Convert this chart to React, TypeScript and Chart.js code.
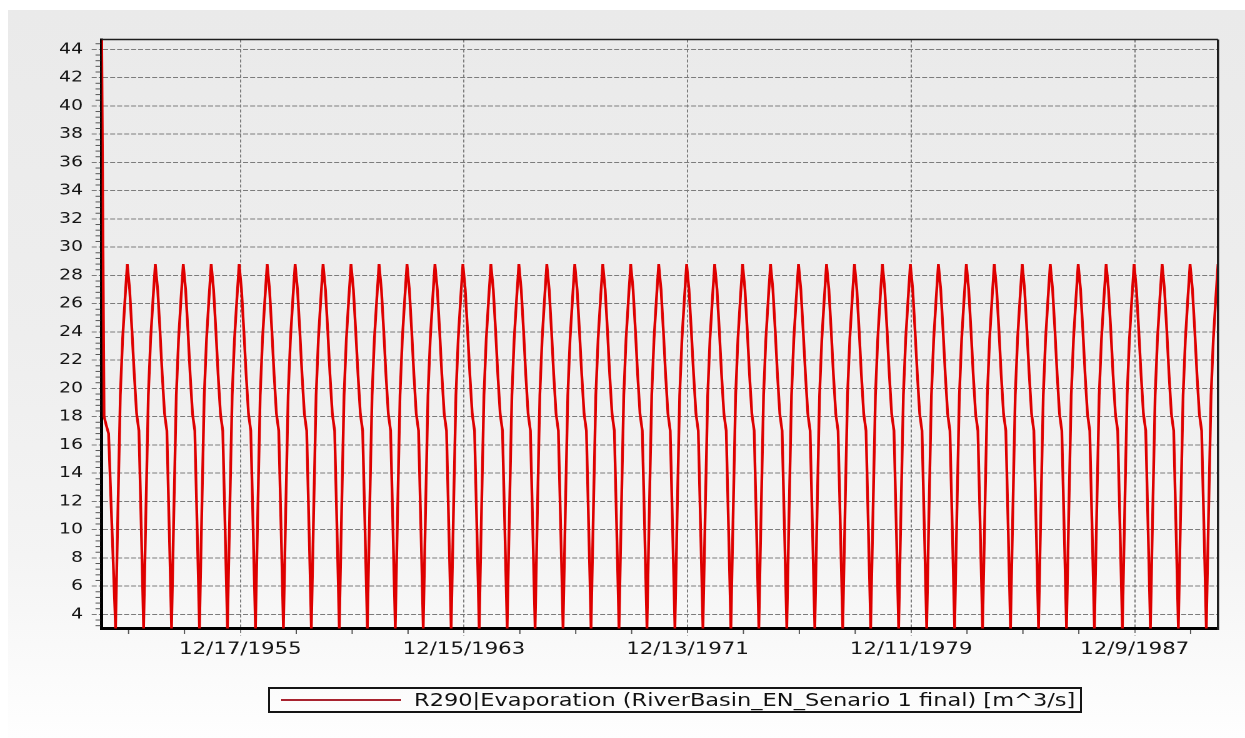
import React, { useEffect, useRef } from 'react';
import { Chart, registerables } from 'chart.js';

Chart.register(...registerables);

// ---------- data ----------
const years = [
  1951, 1952, 1953, 1954, 1955, 1956, 1957, 1958, 1959, 1960,
  1961, 1962, 1963, 1964, 1965, 1966, 1967, 1968, 1969, 1970,
  1971, 1972, 1973, 1974, 1975, 1976, 1977, 1978, 1979, 1980,
  1981, 1982, 1983, 1984, 1985, 1986, 1987, 1988, 1989, 1990,
];
const monthIndexes = [0, 1, 2, 3, 4, 5, 6, 7, 8, 9, 10, 11];
// monthly evaporation [m^3/s], Jan..Dec
const firstYearValues = [44.7, 18.0, 17.4, 16.8, 12.2, 7.6, 3.0, 11.5, 19.5, 23.5, 26.3, 28.8];
const typicalYearValues = [27.0, 24.0, 21.0, 18.2, 17.0, 10.0, 3.0, 11.5, 19.5, 23.5, 26.3, 28.8];
const yTickValues = [4, 6, 8, 10, 12, 14, 16, 18, 20, 22, 24, 26, 28, 30, 32, 34, 36, 38, 40, 42, 44];
const xTickLabels = ['12/17/1955', '12/15/1963', '12/13/1971', '12/11/1979', '12/9/1987'];
const seriesLabel = 'R290|Evaporation (RiverBasin_EN_Senario 1 final) [m^3/s]';
const Y_MIN = 3;
const Y_MAX = 44.7;

// ---------- layout ----------
const PAGE_W = 1245;
const PAGE_H = 738;
const STRETCH = 1.25; // reference is horizontally stretched
const LOGICAL_W = PAGE_W / STRETCH;
const AREA_LEFT = 101.7 / STRETCH;
const AREA_RIGHT = 1218 / STRETCH;
const AREA_TOP = 39.5;
const AREA_BOTTOM = 628.5;

const dayNumber = (y: number, m: number, d: number) => Date.UTC(y, m, d) / 86400000;
const parseLabel = (s: string) => {
  const [m, d, y] = s.split('/').map(Number);
  return dayNumber(y, m - 1, d);
};

const points: { x: number; y: number }[] = [];
years.forEach((yr, i) => {
  const vals = i === 0 ? firstYearValues : typicalYearValues;
  monthIndexes.forEach((m) => points.push({ x: dayNumber(yr, m, 1), y: vals[m] }));
});
const X_MIN = points[0].x;
const X_MAX = points[points.length - 1].x;
const majorDays = xTickLabels.map(parseLabel);
const labelByDay = new Map(majorDays.map((d, i) => [d, xTickLabels[i]]));
const MINOR_X_STEP = 730;
const MINOR_Y_STEP = 0.4;

const GRID = '#7c7c7c';
const FONT = 'DejaVu Sans';

const framePlugin = {
  id: 'frame',
  afterDraw(chart: any) {
    const { ctx, chartArea: a, scales } = chart;
    ctx.save();
    ctx.setLineDash([]);
    ctx.strokeStyle = '#1e1e1e';
    ctx.lineWidth = 1.5;
    ctx.beginPath();
    ctx.moveTo(a.left, a.top);
    ctx.lineTo(a.right, a.top);
    ctx.stroke();
    ctx.lineWidth = 1.8;
    ctx.beginPath();
    ctx.moveTo(a.right, a.top);
    ctx.lineTo(a.right, a.bottom + 1.5);
    ctx.stroke();
    // minor x ticks
    ctx.strokeStyle = '#555';
    ctx.lineWidth = 1;
    const xs = scales.x;
    const first = majorDays[0];
    for (let d = first - MINOR_X_STEP * 10; d <= X_MAX; d += MINOR_X_STEP) {
      if (d < X_MIN || majorDays.includes(d)) continue;
      const px = xs.getPixelForValue(d);
      ctx.beginPath();
      ctx.moveTo(px, a.bottom + 1.5);
      ctx.lineTo(px, a.bottom + 5.5);
      ctx.stroke();
    }
    // minor y ticks
    const ys = scales.y;
    for (let k = -5; k <= 120; k++) {
      const v = 4 + MINOR_Y_STEP * k;
      if (v < Y_MIN || v > Y_MAX) continue;
      const r = Math.round(v);
      if (Math.abs(v - r) < 1e-6 && r % 2 === 0) continue;
      const py = ys.getPixelForValue(v);
      ctx.beginPath();
      ctx.moveTo(a.left - 1.2, py);
      ctx.lineTo(a.left - 5, py);
      ctx.stroke();
    }
    ctx.restore();
  },
};

export default function App() {
  const ref = useRef<HTMLCanvasElement>(null);

  useEffect(() => {
    if (!ref.current) return;
    const chart = new Chart(ref.current, {
      type: 'line',
      data: {
        datasets: [
          {
            label: seriesLabel,
            data: points,
            borderColor: '#de0000',
            borderWidth: 2.2,
            pointRadius: 0,
            tension: 0,
            fill: false,
          },
        ],
      },
      options: {
        responsive: false,
        animation: false,
        devicePixelRatio: 2,
        layout: {
          padding: { left: 0, right: LOGICAL_W - AREA_RIGHT, top: AREA_TOP, bottom: 0 },
        },
        plugins: {
          legend: { display: false },
          tooltip: { enabled: false },
          title: { display: false },
        },
        scales: {
          x: {
            type: 'linear',
            min: X_MIN,
            max: X_MAX,
            afterBuildTicks: (s: any) => {
              s.ticks = majorDays.map((v) => ({ value: v }));
            },
            afterFit: (s: any) => {
              s.height = PAGE_H - AREA_BOTTOM;
            },
            ticks: {
              autoSkip: false,
              maxRotation: 0,
              minRotation: 0,
              padding: 4,
              color: '#151515',
              font: { family: FONT, size: 17 },
              callback: (v: any) => labelByDay.get(v) ?? '',
            },
            grid: {
              color: GRID,
              lineWidth: 1,
              tickLength: 7,
              tickColor: GRID,
              tickBorderDash: [3, 2],
            },
            border: { display: true, color: '#000', width: 3, dash: [3, 2] },
          },
          y: {
            type: 'linear',
            min: Y_MIN,
            max: Y_MAX,
            afterBuildTicks: (s: any) => {
              s.ticks = yTickValues.map((v) => ({ value: v }));
            },
            afterFit: (s: any) => {
              s.width = AREA_LEFT;
            },
            ticks: {
              padding: 7,
              color: '#151515',
              font: { family: FONT, size: 15 },
              callback: (v: any) => String(v),
            },
            grid: {
              color: GRID,
              lineWidth: 1,
              tickLength: 8,
              tickColor: GRID,
              tickBorderDash: [4, 1.6],
            },
            border: { display: true, color: '#000', width: 2.5, dash: [4, 1.6] },
          },
        },
      },
      plugins: [framePlugin],
    } as any);
    return () => chart.destroy();
  }, []);

  return (
    <div
      style={{
        position: 'absolute',
        left: 0,
        top: 0,
        width: PAGE_W,
        height: PAGE_H,
        background: '#ffffff',
        overflow: 'hidden',
      }}
    >
      <div
        style={{
          position: 'absolute',
          left: 8,
          top: 10,
          width: PAGE_W - 8,
          height: PAGE_H - 10,
          background: 'linear-gradient(to bottom, #eaeaea 0%, #eeeeee 45%, #f4f4f4 75%, #fbfbfb 92%, #fefefe 100%)',
        }}
      />
      <canvas
        ref={ref}
        width={LOGICAL_W}
        height={PAGE_H}
        style={{ position: 'absolute', left: 0, top: 0, width: PAGE_W + 'px', height: PAGE_H + 'px' }}
      />
      <div
        style={{
          position: 'absolute',
          left: 268,
          top: 687,
          width: 814,
          height: 26,
          border: '2px solid #151515',
          boxSizing: 'border-box',
        }}
      >
        <div
          style={{
            position: 'absolute',
            left: 11,
            top: 10,
            width: 120,
            height: 2,
            background: '#a8232f',
          }}
        />
        <span
          style={{
            position: 'absolute',
            left: 144,
            top: 0,
            lineHeight: '22px',
            fontFamily: FONT,
            fontSize: 18,
            color: '#111',
            whiteSpace: 'nowrap',
            transform: `scaleX(${STRETCH})`,
            transformOrigin: '0 50%',
          }}
        >
          {seriesLabel}
        </span>
      </div>
    </div>
  );
}
